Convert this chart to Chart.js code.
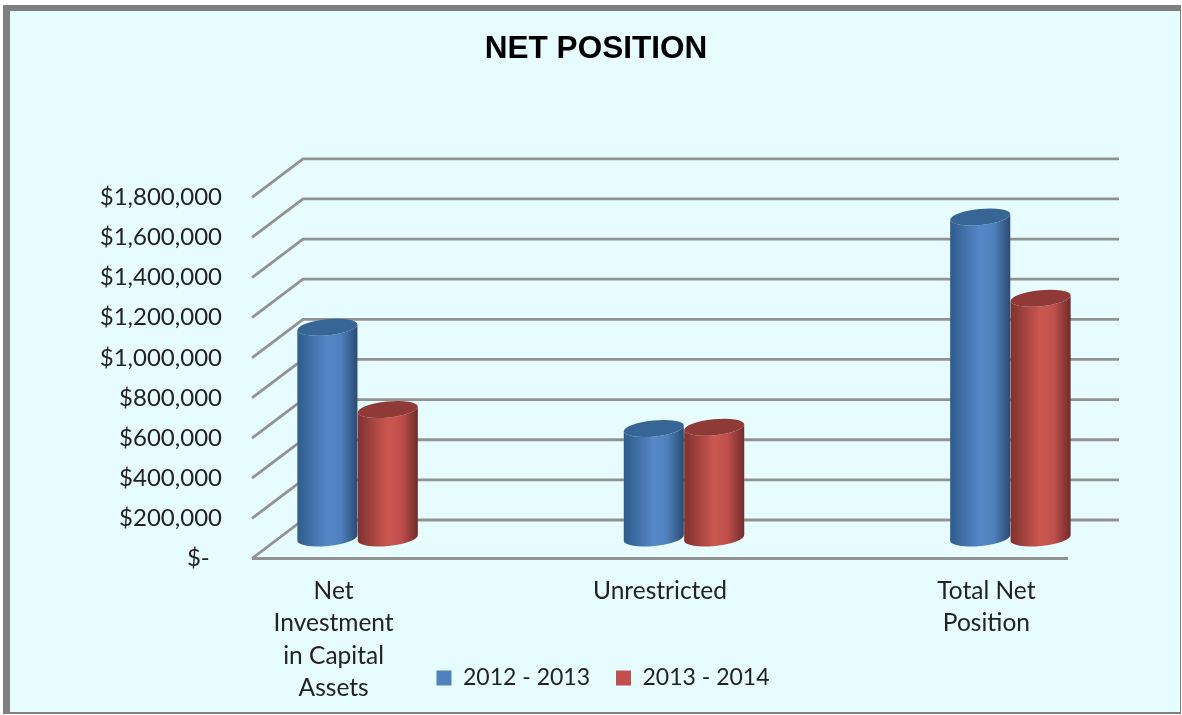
<!DOCTYPE html>
<html>
<head>
<meta charset="utf-8">
<title>Net Position</title>
<script src="https://cdn.jsdelivr.net/npm/chart.js@4/dist/chart.umd.min.js"></script>
<style>
  html, body { margin: 0; padding: 0; background: #fff; }
  #frame {
    position: absolute; left: 3px; top: 5px; width: 1178px; height: 709px;
    box-sizing: border-box; background: #e6fcff;
    border-style: solid; border-color: #7f7f7f;
    border-width: 6px 1px 2px 7px;
  }
  canvas { position: absolute; left: 0; top: 0; }
</style>
</head>
<body>
<div id="frame"></div>
<canvas id="netChart" width="1182" height="715"></canvas>
<script>
const categories = [
  ["Net", "Investment", "in Capital", "Assets"],
  ["Unrestricted"],
  ["Total Net", "Position"]
];
const seriesNames = ["2012 - 2013", "2013 - 2014"];
const values2012 = [1050000, 546000, 1600000];
const values2013 = [640000, 552000, 1195000];
const tickStep = 200000;
const axisMax = 1800000;

const fontName = "Lato, 'Open Sans', sans-serif";
const gridColor = "#929292";

// 3D look: back wall sits up and right of the front plane, bars stand half way in
const wallDx = 51, wallDy = -38.5;
const barDx = 24, barDy = -20.5;

const palettes = [
  { key: "#4f81bd", edgeL: "#2f5b8c", mid: "#5687c8", edgeR: "#2a4a72", cap: "#376596" },
  { key: "#c0504d", edgeL: "#7f322f", mid: "#cc5750", edgeR: "#6f2b29", cap: "#8f3a37" }
];

const wallPlugin = {
  id: "wall",
  afterLayout(chart) {
    // the scales clip labels to their box, and the legend overlaps the axis label block here
    const { x, y } = chart.scales;
    x.bottom = chart.height;
    y.left = 0;
    const lg = chart.legend;
    const h = lg.bottom - lg.top;
    lg.top = 670 - h / 2;
    lg.bottom = lg.top + h;
    lg.left += 7;
    lg.right += 7;
  },
  beforeDatasetsDraw(chart) {
    const { ctx, scales: { x, y } } = chart;
    ctx.save();
    ctx.strokeStyle = gridColor;
    ctx.lineWidth = 2.8;
    y.ticks.forEach(t => {
      const py = y.getPixelForValue(t.value);
      ctx.beginPath();
      ctx.moveTo(x.left, py);
      ctx.lineTo(x.left + wallDx, py + wallDy);
      ctx.lineTo(x.right + wallDx, py + wallDy);
      ctx.stroke();
    });
    const y0 = y.getPixelForValue(0);
    ctx.beginPath();
    ctx.moveTo(x.left, y0);
    ctx.lineTo(x.right, y0);
    ctx.stroke();
    ctx.restore();
  }
};

function drawCylinder(ctx, bar, pal) {
  const x0 = bar.x - bar.width / 2 + barDx;
  const x1 = bar.x + bar.width / 2 + barDx;
  const cx = (x0 + x1) / 2;
  const rx = (x1 - x0) / 2;
  const ry = 8;
  const rot = -0.1;
  const top = bar.y + barDy;
  const bottom = bar.base + barDy;

  const grad = ctx.createLinearGradient(x0, 0, x1, 0);
  grad.addColorStop(0, pal.edgeL);
  grad.addColorStop(0.5, pal.mid);
  grad.addColorStop(0.72, pal.key);
  grad.addColorStop(1, pal.edgeR);

  ctx.save();
  ctx.beginPath();
  ctx.ellipse(cx, bottom, rx, ry, rot, Math.PI, 0, true);
  ctx.ellipse(cx, top, rx, ry, rot, 0, Math.PI, false);
  ctx.closePath();
  ctx.fillStyle = grad;
  ctx.fill();

  ctx.beginPath();
  ctx.ellipse(cx, top, rx, ry, rot, 0, Math.PI * 2);
  ctx.fillStyle = pal.cap;
  ctx.fill();
  ctx.restore();
}

const cylinderPlugin = {
  id: "cylinders",
  afterDatasetsDraw(chart) {
    chart.data.datasets.forEach((ds, i) => {
      chart.getDatasetMeta(i).data.forEach(bar => drawCylinder(chart.ctx, bar, palettes[i]));
    });
  }
};

const toPoints = vals => vals.map((v, i) => ({ x: i, y: v }));

new Chart(document.getElementById("netChart"), {
  type: "bar",
  data: {
    datasets: [
      // transparent here: the cylinder plugin paints them
      { label: seriesNames[0], data: toPoints(values2012), backgroundColor: "transparent" },
      { label: seriesNames[1], data: toPoints(values2013), backgroundColor: "transparent" }
    ]
  },
  plugins: [wallPlugin, cylinderPlugin],
  options: {
    responsive: false,
    animation: false,
    datasets: { bar: { categoryPercentage: 0.37, barPercentage: 1 } },
    elements: { bar: { borderWidth: 0 } },
    layout: { padding: { left: 124, right: 114, top: 0, bottom: 0 } },
    plugins: {
      title: {
        display: true,
        text: "NET POSITION",
        color: "#000",
        font: { family: "'Liberation Sans', Arial, sans-serif", size: 31.5, weight: "bold" },
        padding: { top: 30, bottom: 129.5 }
      },
      legend: {
        position: "bottom",
        labels: {
          boxWidth: 15, boxHeight: 15, padding: 26,
          color: "#222",
          font: { family: fontName, size: 23 },
          generateLabels() {
            return seriesNames.map((n, i) => ({
              text: n, fillStyle: palettes[i].key, strokeStyle: palettes[i].key,
              lineWidth: 0, datasetIndex: i, fontColor: "#222"
            }));
          }
        }
      },
      tooltip: { enabled: false }
    },
    scales: {
      x: {
        type: "linear",
        min: -0.25,
        max: 2.25,
        offset: false,
        grid: { display: false },
        border: { display: false },
        afterBuildTicks(s) { s.ticks = categories.map((c, i) => ({ value: i })); },
        afterFit(s) { s.height = 97.5; },
        ticks: {
          autoSkip: false, maxRotation: 0, padding: 8,
          color: "#222",
          font: { family: fontName, size: 24.5, lineHeight: 1.33 },
          callback: v => categories[v]
        }
      },
      y: {
        min: 0,
        max: axisMax,
        grid: { display: false },
        border: { display: false },
        afterFit(s) { s.width = 128; },
        ticks: {
          stepSize: tickStep,
          padding: 22,
          color: "#222",
          font: { family: fontName, size: 24 },
          callback: v => v === 0 ? "$-  " : "$" + v.toLocaleString("en-US")
        }
      }
    }
  }
});
</script>
</body>
</html>
